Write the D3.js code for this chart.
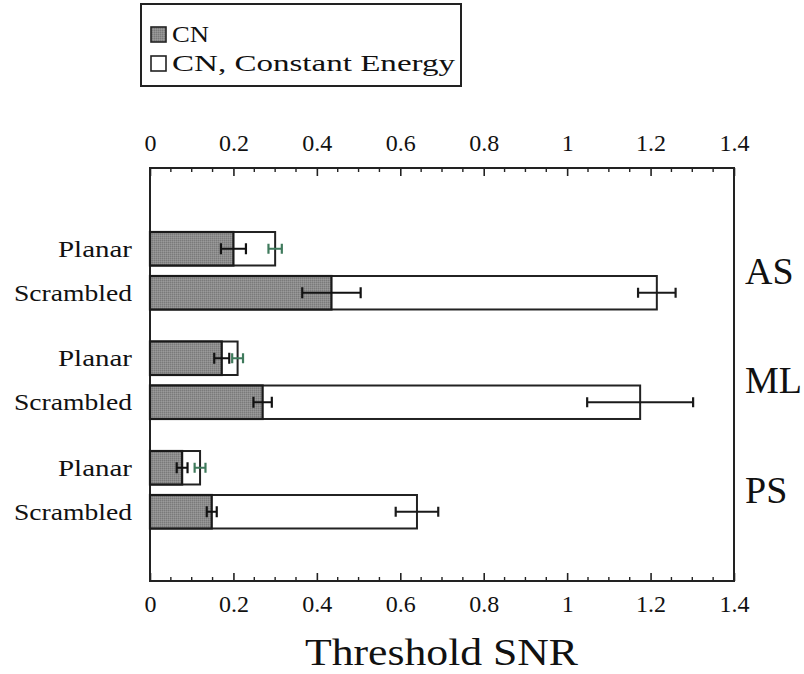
<!DOCTYPE html>
<html>
<head>
<meta charset="utf-8">
<script src="https://cdn.jsdelivr.net/npm/d3@7"></script>
<style>
  html, body { margin: 0; padding: 0; background: #fff; }
  svg { display: block; }
</style>
</head>
<body>
<svg id="chart" width="804" height="674"></svg>
<script>
// Threshold SNR for three subjects, planar vs. scrambled stimuli
const groups = ["AS", "ML", "PS"];
const conditions = ["Planar", "Scrambled"];
const seriesNames = ["CN", "CN, Constant Energy"];

// CN threshold and its error, per group/condition (row order: AS, ML, PS; Planar, Scrambled)
const cnValues = [0.20, 0.435, 0.172, 0.27, 0.077, 0.148];
const cnErrors = [0.03, 0.07, 0.018, 0.022, 0.013, 0.012];
// CN, Constant Energy threshold and its error
const ceValues = [0.30, 1.215, 0.21, 1.175, 0.12, 0.64];
const ceErrors = [0.016, 0.045, 0.013, 0.127, 0.013, 0.051];

const xTicks = [0, 0.2, 0.4, 0.6, 0.8, 1, 1.2, 1.4];
const xMinorTicks = d3.range(0, 1.4001, 0.05);
const axisTitle = "Threshold SNR";

const SERIF = "Liberation Serif";

const rows = [];
groups.forEach((g, gi) => conditions.forEach((c, ci) => {
  const i = gi * 2 + ci;
  rows.push({ group: g, cond: c, cn: cnValues[i], cnErr: cnErrors[i], ce: ceValues[i], ceErr: ceErrors[i] });
}));

const svg = d3.select("#chart");
const frame = { left: 150, right: 734, top: 168, bottom: 581 };

const x = d3.scaleLinear().domain([0, 1.4]).range([frame.left, frame.right]);
const yGroup = d3.scaleBand().domain(groups).range([216, 544.5]).paddingInner(0);
const yCond = d3.scaleBand().domain(conditions).range([0, yGroup.bandwidth()])
  .paddingInner(0.239).paddingOuter(0.364);
const yTop = d => yGroup(d.group) + yCond(d.cond);
const bh = yCond.bandwidth();

function serifText(sel, size) {
  return sel.attr("font-family", SERIF).attr("font-size", size)
    .style("font-family", `"${SERIF}"`).style("font-size", size + "px").attr("fill", "#111");
}

// stippled grey fill for the CN bars
const defs = svg.append("defs");
const pat = defs.append("pattern").attr("id", "stipple")
  .attr("width", 2).attr("height", 2).attr("patternUnits", "userSpaceOnUse");
pat.append("rect").attr("width", 2).attr("height", 2).attr("fill", "#8c8c8c");
pat.append("rect").attr("width", 1).attr("height", 1).attr("fill", "#7a7a7a");
pat.append("rect").attr("x", 1).attr("y", 1).attr("width", 1).attr("height", 1).attr("fill", "#9a9a9a");

// axes: ticks point into the frame on top and bottom
const fmt = d => d3.format("~g")(d);
const axTop = svg.append("g").attr("transform", `translate(0,${frame.top})`)
  .call(d3.axisTop(x).tickValues(xTicks).tickFormat(fmt).tickSize(-8).tickPadding(17));
const axBot = svg.append("g").attr("transform", `translate(0,${frame.bottom})`)
  .call(d3.axisBottom(x).tickValues(xTicks).tickFormat(fmt).tickSize(-8).tickPadding(14));
[axTop, axBot].forEach(a => {
  a.attr("font-family", SERIF).attr("font-size", 24);
  a.select(".domain").remove();
  a.selectAll(".tick line").attr("stroke", "#222").attr("stroke-width", 1.6);
  serifText(a.selectAll(".tick text"), 24);
});
const minor = xMinorTicks.filter(v => Math.round(v * 100) % 20 !== 0);
svg.append("g").selectAll("line").data(minor).join("line")
  .attr("x1", d => x(d)).attr("x2", d => x(d))
  .attr("y1", frame.top).attr("y2", frame.top + 4)
  .attr("stroke", "#222").attr("stroke-width", 1.4);
svg.append("g").selectAll("line").data(minor).join("line")
  .attr("x1", d => x(d)).attr("x2", d => x(d))
  .attr("y1", frame.bottom).attr("y2", frame.bottom - 4)
  .attr("stroke", "#222").attr("stroke-width", 1.4);

// plot frame
svg.append("rect")
  .attr("x", frame.left).attr("y", frame.top)
  .attr("width", frame.right - frame.left).attr("height", frame.bottom - frame.top)
  .attr("fill", "none").attr("stroke", "#222").attr("stroke-width", 2);

// bars: constant-energy (white) behind, CN (grey) in front
const bars = svg.append("g");
bars.selectAll("rect.ce").data(rows).join("rect").attr("class", "ce")
  .attr("x", x(0)).attr("y", yTop).attr("height", bh)
  .attr("width", d => x(d.ce) - x(0))
  .attr("fill", "#fff").attr("stroke", "#222").attr("stroke-width", 2);
bars.selectAll("rect.cn").data(rows).join("rect").attr("class", "cn")
  .attr("x", x(0)).attr("y", yTop).attr("height", bh)
  .attr("width", d => x(d.cn) - x(0))
  .attr("fill", "url(#stipple)").attr("stroke", "#1a1a1a").attr("stroke-width", 2.2);

// error bars
function errorBars(sel, val, err, color, cap) {
  const g = sel.append("g");
  rows.forEach(d => {
    const cy = yTop(d) + bh / 2;
    const lo = x(d[val] - d[err]), hi = x(d[val] + d[err]);
    const c = typeof color === "function" ? color(d) : color;
    g.append("line").attr("x1", lo).attr("x2", hi).attr("y1", cy).attr("y2", cy)
      .attr("stroke", c).attr("stroke-width", 2);
    [lo, hi].forEach(px => g.append("line").attr("x1", px).attr("x2", px)
      .attr("y1", cy - cap / 2).attr("y2", cy + cap / 2)
      .attr("stroke", c).attr("stroke-width", 2.2));
  });
}
errorBars(svg, "ce", "ceErr", d => d.cond === "Planar" ? "#3f7a5c" : "#1a1a1a", 10);
errorBars(svg, "cn", "cnErr", "#111", 11);

// row labels (wide glyphs, right-aligned against the frame)
const widthOf = { Planar: 74, Scrambled: 118 };
serifText(svg.append("g").selectAll("text").data(rows).join("text"), 24)
  .attr("x", d => 132 - widthOf[d.cond]).attr("y", d => yTop(d) + bh / 2 + 8)
  .attr("textLength", d => widthOf[d.cond]).attr("lengthAdjust", "spacingAndGlyphs")
  .text(d => d.cond);

// group labels on the right
serifText(svg.append("g").selectAll("text").data(groups).join("text"), 38)
  .attr("x", 745).attr("y", g => yGroup(g) + yGroup.bandwidth() / 2 + 13)
  .text(g => g);

// axis title
serifText(svg.append("text"), 38)
  .attr("x", 305).attr("y", 665)
  .attr("textLength", 273).attr("lengthAdjust", "spacingAndGlyphs")
  .text(axisTitle);

// legend
const lg = svg.append("g");
lg.append("rect").attr("x", 141).attr("y", 4).attr("width", 320).attr("height", 82)
  .attr("fill", "#fff").attr("stroke", "#222").attr("stroke-width", 2);
const swFill = ["url(#stipple)", "#fff"];
const legendWidths = [37, 283];
seriesNames.forEach((s, i) => {
  const yy = 27 + i * 29;
  lg.append("rect").attr("x", 151).attr("y", yy).attr("width", 15).attr("height", 15)
    .attr("fill", swFill[i]).attr("stroke", "#222").attr("stroke-width", 1.6);
  serifText(lg.append("text"), 23)
    .attr("x", 172).attr("y", yy + 15)
    .attr("textLength", legendWidths[i]).attr("lengthAdjust", "spacingAndGlyphs")
    .text(s);
});
</script>
</body>
</html>
